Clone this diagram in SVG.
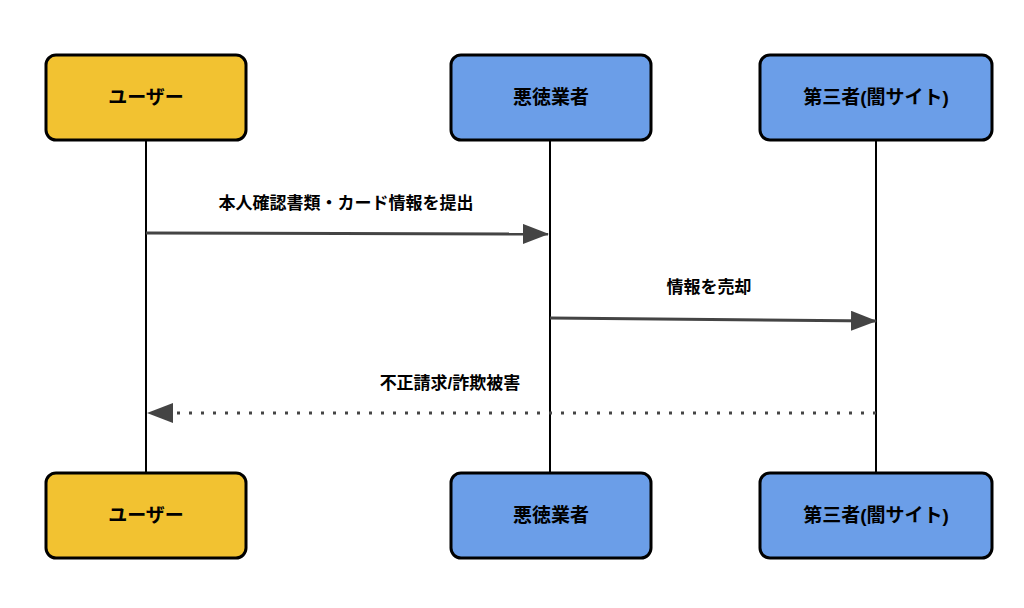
<svg xmlns="http://www.w3.org/2000/svg" width="1024" height="608" viewBox="0 0 1024 608">
<style>
.box{stroke:#000;stroke-width:3}
.y{fill:#f2c231}.b{fill:#6b9ee8}
.t{font-family:"Liberation Sans","Noto Sans CJK JP",sans-serif;font-weight:bold;font-size:19px;text-anchor:middle;fill:#000}
.l{font-family:"Liberation Sans","Noto Sans CJK JP",sans-serif;font-weight:bold;font-size:17px;text-anchor:middle;fill:#000}
.life{stroke:#000;stroke-width:2}
.msg{stroke:#444;stroke-width:3;fill:none}
</style>
<defs><marker id="a" markerWidth="10" markerHeight="8" refX="9" refY="4" orient="auto" markerUnits="userSpaceOnUse" viewBox="0 0 10 8"><path d="M0,0L10,4L0,8z" fill="#444"/></marker>
<marker id="ah" viewBox="0 0 26 20" refX="25" refY="10" markerWidth="26" markerHeight="20" orient="auto" markerUnits="userSpaceOnUse"><path d="M0,0L26,10L0,20z" fill="#444"/></marker></defs>
<rect width="1024" height="608" fill="#fff"/>
<g id="lifelines">
<line class="life" x1="146" y1="140" x2="146" y2="473"/>
<line class="life" x1="550" y1="140" x2="550" y2="473"/>
<line class="life" x1="876" y1="140" x2="876" y2="473"/>
</g>
<g id="connectors">
<path class="msg" d="M146,233L548,234" marker-end="url(#ah)"/>
<text class="l" x="346" y="209">本人確認書類・カード情報を提出</text>
<path class="msg" d="M550,318L876,321" marker-end="url(#ah)"/>
<text class="l" x="709" y="293">情報を売却</text>
<path class="msg" d="M876,413L148,413" stroke-dasharray="3,9" marker-end="url(#ah)"/>
<text class="l" x="450" y="389">不正請求/詐欺被害</text>
</g>
<g id="user-top"><rect class="box y" x="46" y="55" width="200" height="85" rx="10"/><text class="t" x="146" y="104">ユーザー</text></g>
<g id="vendor-top"><rect class="box b" x="451" y="55" width="200" height="85" rx="10"/><text class="t" x="551" y="104">悪徳業者</text></g>
<g id="third-top"><rect class="box b" x="760" y="55" width="232" height="85" rx="10"/><text class="t" x="876" y="104">第三者(闇サイト)</text></g>
<g id="user-bottom"><rect class="box y" x="46" y="473" width="200" height="85" rx="10"/><text class="t" x="146" y="522">ユーザー</text></g>
<g id="vendor-bottom"><rect class="box b" x="451" y="473" width="200" height="85" rx="10"/><text class="t" x="551" y="522">悪徳業者</text></g>
<g id="third-bottom"><rect class="box b" x="760" y="473" width="232" height="85" rx="10"/><text class="t" x="876" y="522">第三者(闇サイト)</text></g>
</svg>
